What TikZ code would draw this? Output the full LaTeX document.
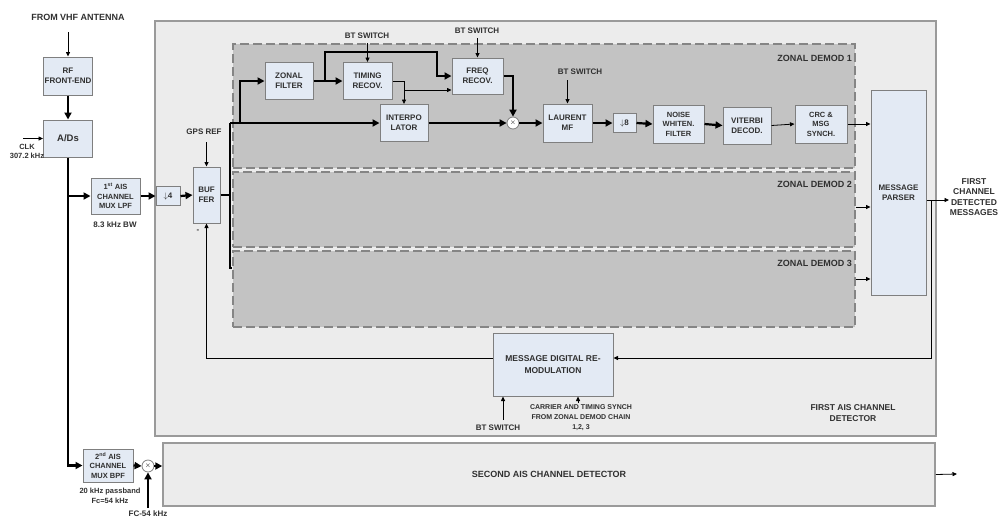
\documentclass[tikz,border=0pt]{standalone}
\usepackage{fontspec}
\setmainfont{Liberation Sans}
\usetikzlibrary{arrows.meta, positioning, calc}
\definecolor{aisBox}{HTML}{E3EAF4}
\definecolor{aisEdge}{HTML}{7F7F7F}
\definecolor{aisPanel}{HTML}{ECECEC}
\definecolor{aisPanelEdge}{HTML}{9A9A9A}
\definecolor{aisZone}{HTML}{C3C3C3}
\definecolor{aisZoneEdge}{HTML}{858585}
\definecolor{aisInk}{HTML}{303030}
\newcommand{\aisfont}[2]{\fontsize{#1}{#2}\selectfont\bfseries}

\begin{document}
\begin{tikzpicture}[x=1pt, y=-1pt,
  blk/.style={draw=aisEdge, fill=aisBox, line width=1pt, align=center,
    inner sep=0pt, text=aisInk, font=\aisfont{8}{10}},
  panel/.style={draw=aisPanelEdge, fill=aisPanel, line width=1.5pt, inner sep=0pt},
  zone/.style={draw=aisZoneEdge, fill=aisZone, line width=1.4pt,
    dash pattern=on 9pt off 4pt, inner sep=0pt},
  lbl/.style={text=aisInk, align=center, inner sep=0pt, font=\aisfont{8}{10}},
  mixer/.style={circle, draw=aisEdge, fill=white, line width=0.8pt,
    minimum size=12pt, inner sep=0pt, font=\aisfont{7}{7}},
  bus/.style={line width=2.2pt, -{Triangle[length=7pt,width=7pt]}},
  busline/.style={line width=2.2pt},
  wire/.style={line width=0.8pt, -{Triangle[length=4.5pt,width=4pt]}}]

  \useasboundingbox (0,0) rectangle (998,517);

  \node[panel, minimum width=781pt, minimum height=415pt] (det1) at (545.5,228.5) {};
  \node[panel, minimum width=772pt, minimum height=63pt, text=aisInk,
    font=\aisfont{9}{11}] (det2) at (549,474.5) {SECOND AIS CHANNEL DETECTOR};

  \node[zone, minimum width=622pt, minimum height=124pt] (zd1) at (544,106) {};
  \node[zone, minimum width=622pt, minimum height=75pt] (zd2) at (544,209.5) {};
  \node[zone, minimum width=622pt, minimum height=76pt] (zd3) at (544,289) {};
  \node[lbl, anchor=east, font=\aisfont{9}{11}] (zd1l) at (852,58) {ZONAL DEMOD 1};
  \node[lbl, anchor=east, font=\aisfont{9}{11}] (zd2l) at (852,184) {ZONAL DEMOD 2};
  \node[lbl, anchor=east, font=\aisfont{9}{11}] (zd3l) at (852,263) {ZONAL DEMOD 3};
  \node[lbl, font=\aisfont{8.5}{11}] (det1l) at (853,413.5) {FIRST AIS CHANNEL\\DETECTOR};

  \node[lbl, font=\aisfont{9}{11}] (vhf) at (78,17) {FROM VHF ANTENNA};
  \node[blk, minimum width=49pt, minimum height=38pt] (rf) at (68,76) {RF\\FRONT-END};
  \node[blk, minimum width=49pt, minimum height=37pt, font=\aisfont{9.5}{11}] (ad) at (68,138.5) {A/Ds};
  \node[lbl, font=\aisfont{7.5}{9}] (clk) at (27,151.5) {CLK\\307.2 kHz};
  \node[blk, minimum width=49pt, minimum height=36pt, font=\aisfont{7.5}{9.5}] (lpf1) at (115.5,196)
    {1\textsuperscript{st} AIS\\CHANNEL\\MUX LPF};
  \node[lbl] (bw) at (115,225) {8.3 kHz BW};
  \node[blk, minimum width=24pt, minimum height=19pt] (dec4) at (168,196) {$\downarrow$4};
  \node[blk, minimum width=27pt, minimum height=56pt, text depth=0pt] (buf) at (206.5,195) {BUF\\FER};
  \node[lbl] (gps) at (204,132) {GPS REF};
  \node[lbl] (dash) at (198,231) {-};

  \node[blk, minimum width=48pt, minimum height=37pt] (zf) at (289,81) {ZONAL\\FILTER};
  \node[blk, minimum width=49pt, minimum height=37pt] (tr) at (367.5,81) {TIMING\\RECOV.};
  \node[blk, minimum width=51pt, minimum height=36pt] (fr) at (477.5,76) {FREQ\\RECOV.};
  \node[blk, minimum width=48pt, minimum height=37pt] (ip) at (404,123) {INTERPO\\LATOR};
  \node[mixer] (mix) at (513,123) {$\times$};
  \node[blk, minimum width=49pt, minimum height=38pt] (lmf) at (567.5,123) {LAURENT\\MF};
  \node[blk, minimum width=23pt, minimum height=19pt] (dec8) at (624.5,123) {$\downarrow$8};
  \node[blk, minimum width=51pt, minimum height=38pt, font=\aisfont{7.5}{9.5}] (nwf) at (678.5,124) {NOISE\\WHITEN.\\FILTER};
  \node[blk, minimum width=48pt, minimum height=37pt] (vit) at (747,125.5) {VITERBI\\DECOD.};
  \node[blk, minimum width=52pt, minimum height=38pt, font=\aisfont{7.5}{9.5}] (crc) at (821,124) {CRC \&\\MSG\\SYNCH.};
  \node[lbl] (bt1) at (367,36) {BT SWITCH};
  \node[lbl] (bt2) at (477,31) {BT SWITCH};
  \node[lbl] (bt3) at (580,72) {BT SWITCH};

  \node[blk, minimum width=55pt, minimum height=205pt] (parser) at (898.5,192.5) {MESSAGE\\PARSER};
  \node[lbl, font=\aisfont{8.5}{10.3}] (firstout) at (974,197) {FIRST\\CHANNEL\\DETECTED\\MESSAGES};

  \node[blk, minimum width=120pt, minimum height=63pt, font=\aisfont{8.5}{12}] (remod) at (553,364.5)
    {MESSAGE DIGITAL RE-\\MODULATION};
  \node[lbl] (bt4) at (498,428) {BT SWITCH};
  \node[lbl, font=\aisfont{7}{10}] (sync) at (581,418)
    {CARRIER AND TIMING SYNCH\\FROM ZONAL DEMOD CHAIN\\1,2, 3};

  \node[blk, minimum width=50pt, minimum height=33pt, font=\aisfont{7.5}{9.5}] (lpf2) at (108,465.5)
    {2\textsuperscript{nd} AIS\\CHANNEL\\MUX BPF};
  \node[lbl, font=\aisfont{7.5}{9.5}] (bpf) at (110,496) {20 kHz passband\\Fc=54 kHz};
  \node[mixer] (mix2) at (148,466) {$\times$};
  \node[lbl] (fcl) at (148,514) {FC-54 kHz};

  \coordinate (ant) at (68,32);
  \coordinate (clkIn) at (23,138.5);
  \coordinate (tap1) at (68,196);
  \coordinate (gpsIn) at (206.5,142);
  \coordinate (busMid) at (230,195);
  \coordinate (busTop) at (230,123);
  \coordinate (busBot) at (230,268);
  \coordinate (zfTap) at (240,123);
  \coordinate (trTap) at (325,81);
  \coordinate (frUp) at (437,52);
  \coordinate (ipTap) at (404,90);
  \coordinate (btTr) at (367.5,43);
  \coordinate (btFr) at (477.5,38);
  \coordinate (btLmf) at (567.5,80);
  \coordinate (out1) at (949,200);
  \coordinate (fbTap) at (931,200);
  \coordinate (btRemod) at (503,420);
  \coordinate (syncIn) at (578,403);
  \coordinate (fcIn) at (148,508);
  \coordinate (out2) at (957,474);

  \draw[wire] (ant) -- (rf.north);
  \draw[bus] (rf.south) -- (ad.north);
  \draw[wire] (clkIn) -- (ad.west);
  \draw[bus] (ad.south) |- (lpf2.west);
  \draw[bus] (tap1) -- (lpf1.west);
  \draw[bus] (lpf1.east) -- (dec4.west);
  \draw[bus] (dec4.east) -- (buf.west);
  \draw[wire] (gpsIn) -- (buf.north);

  \draw[busline] (buf.east) -- (busMid);
  \draw[busline] (busTop) -- (busBot) -- (busBot -| zd3.west);
  \draw[bus] (busTop) -- (ip.west);
  \draw[bus] (zfTap) |- (zf.west);
  \draw[bus] (zf.east) -- (tr.west);
  \draw[bus] (trTap) |- (frUp) |- (fr.west);
  \draw[wire] (tr.east) -| (ip.north);
  \draw[wire] (ipTap) -- (ipTap -| fr.west);
  \draw[bus] (ip.east) -- (mix.west);
  \draw[bus] (fr.east) -| (mix.north);
  \draw[bus] (mix.east) -- (lmf.west);
  \draw[wire] (btTr) -- (tr.north);
  \draw[wire] (btFr) -- (fr.north);
  \draw[wire] (btLmf) -- (lmf.north);
  \draw[bus] (lmf.east) -- (dec8.west);
  \draw[bus] (dec8.east) -- (nwf.west);
  \draw[bus] (nwf.east) -- (vit.west);
  \draw[wire] (vit.east) -- (crc.west);
  \draw[wire] (crc.east) -- (crc.east -| parser.west);
  \draw[wire] ([yshift=2.5pt]zd2.east) -- ([yshift=2.5pt]zd2.east -| parser.west);
  \draw[wire] ([yshift=10pt]zd3.east) -- ([yshift=10pt]zd3.east -| parser.west);

  \draw[wire] ([yshift=-7.5pt]parser.east) -- (out1);
  \draw[wire] (fbTap) |- ([yshift=6.5pt]remod.east);
  \draw[wire] ([yshift=6.5pt]remod.west) -| (buf.south);
  \draw[wire] (btRemod) -- (btRemod |- remod.south);
  \draw[wire] (syncIn) -- (syncIn |- remod.south);

  \draw[bus] (lpf2.east) -- (mix2.west);
  \draw[bus] (mix2.east) -- (mix2.east -| det2.west);
  \draw[bus] (fcIn) -- (mix2.south);
  \draw[wire] (det2.east) -- (out2);
\end{tikzpicture}
\end{document}
